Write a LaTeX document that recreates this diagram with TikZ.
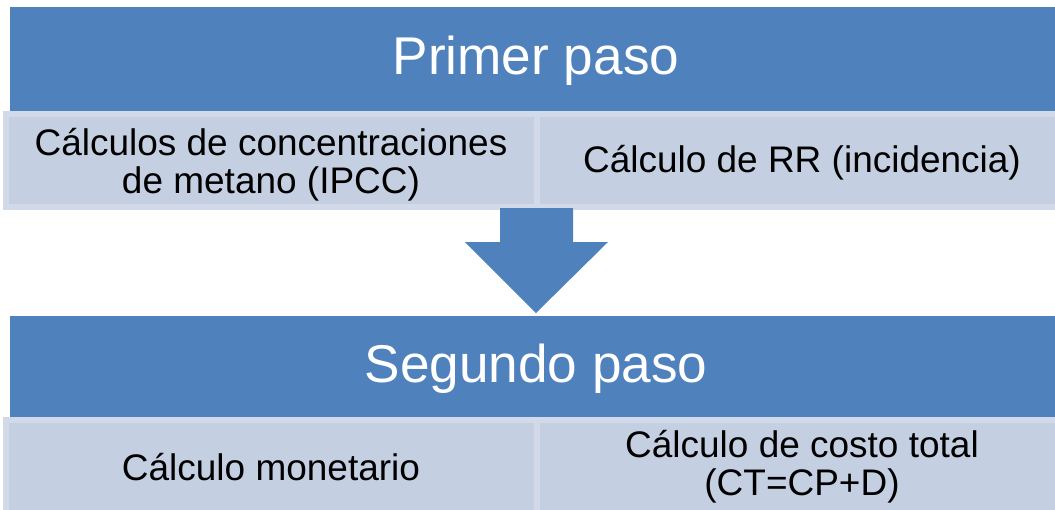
\documentclass[tikz,border=0pt]{standalone}
\usepackage{fontspec}
\setmainfont{Liberation Sans}
\usetikzlibrary{calc}
\definecolor{pasoazul}{RGB}{79,129,189}
\definecolor{calcfondo}{RGB}{196,207,226}
\definecolor{calcborde}{RGB}{210,218,233}
\tikzset{
	paso/.style={text=white, font=\fontsize{37.8}{44}\selectfont},
	calcbox/.style={fill=calcfondo, draw=calcborde, line width=4},
	calctext/.style={align=center, font=\fontsize{26.3}{27}\selectfont}
}
\begin{document}
\begin{tikzpicture}[x=0.025cm, y=-0.025cm]
		%%%%% START %%%%%
		\useasboundingbox (0, 0) rectangle (1055, 509);
		\clip (0, 0) rectangle (1055, 509);
		
		% primer paso
		\fill[pasoazul] (10, 7) rectangle (1062, 111);
		\node[paso] (primer) at (536, 61) {Primer paso};
		
		\draw[calcbox] (6, 114) rectangle (537, 207);
		\draw[calcbox] (537, 114) rectangle (1064, 207);
		\node[calctext] (metano) at (271, 165) {Cálculos de concentraciones\\de metano (IPCC)};
		\node[calctext] (rr) at (802, 163) {Cálculo de RR (incidencia)};
		
		% flecha
		\fill[pasoazul] (500, 208) -- (573, 208) -- (573, 242) -- (608, 242)
			-- (536, 313) -- (465, 242) -- (500, 242) -- cycle;
		
		% segundo paso
		\fill[pasoazul] (10, 316) rectangle (1062, 417);
		\node[paso] (segundo) at (536, 369) {Segundo paso};
		
		\draw[calcbox] (6, 420) rectangle (537, 513);
		\draw[calcbox] (537, 420) rectangle (1064, 513);
		\node[calctext] (monetario) at (271, 467) {Cálculo monetario};
		\node[calctext] (costo) at (802, 467) {Cálculo de costo total\\(CT=CP+D)};
		%%%%% END %%%%%
\end{tikzpicture}
\end{document}
